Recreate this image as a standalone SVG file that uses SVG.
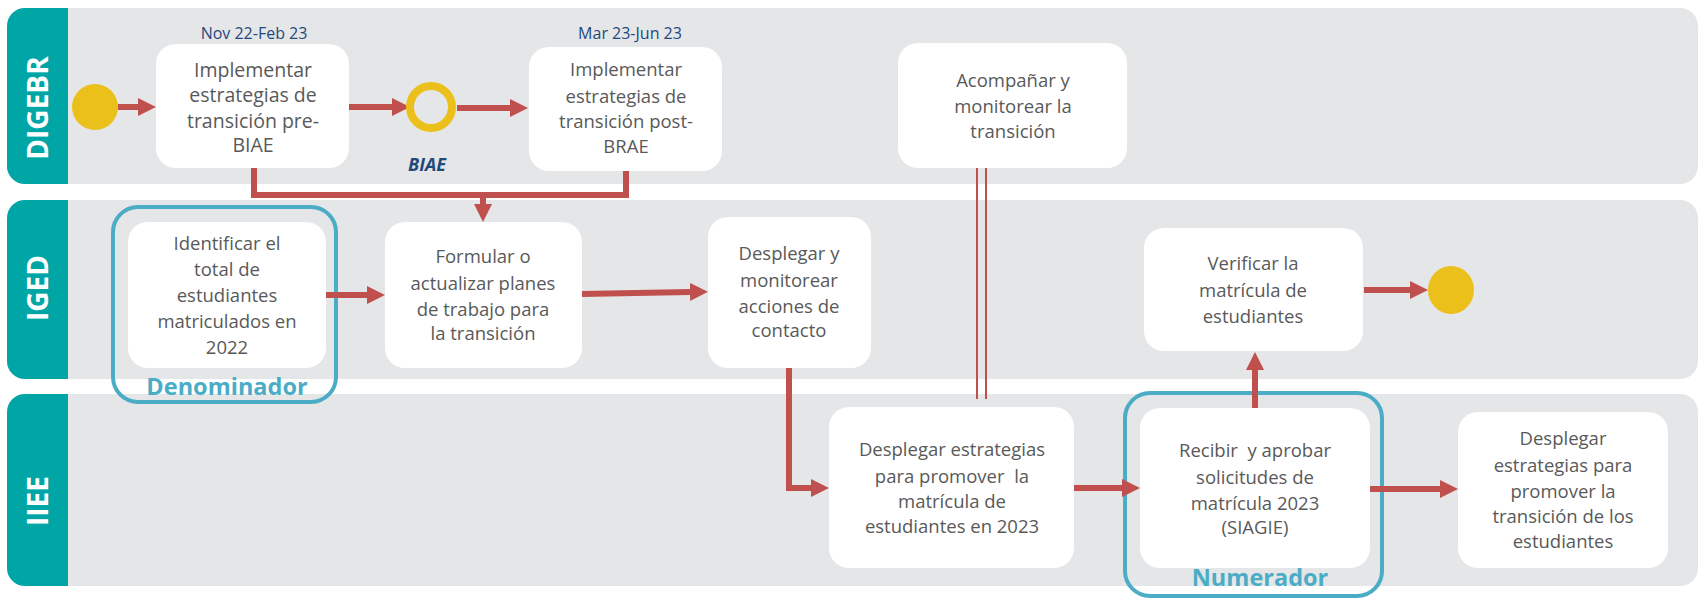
<svg xmlns="http://www.w3.org/2000/svg" width="1701" height="599" viewBox="0 0 1701 599">
<style>
.lane{fill:#E5E6E8}
.hdr{fill:#00A6A6}
.lbl{font-family:"Open Sans","Liberation Sans",sans-serif;font-weight:bold;font-size:28px;fill:#FFFFFF;text-anchor:middle}
.box{fill:#FFFFFF}
.t{font-family:"Open Sans","Liberation Sans",sans-serif;font-size:18.5px;fill:#595959;text-anchor:middle}
.t1{font-size:19.5px}
.date{font-family:"Open Sans","Liberation Sans",sans-serif;font-size:16px;fill:#1F497D;text-anchor:middle}
.biae{font-family:"Open Sans","Liberation Sans",sans-serif;font-size:18px;font-weight:bold;font-style:italic;fill:#1F497D;text-anchor:middle}
.mark{fill:none;stroke:#4BACC6;stroke-width:4}
.markt{font-family:"Open Sans","Liberation Sans",sans-serif;font-size:23.5px;font-weight:bold;fill:#4BACC6;text-anchor:middle}
.c{fill:none;stroke:#C0504D;stroke-width:6}
.c2{fill:none;stroke:#C0504D;stroke-width:2}
.ev{fill:#ECC01A}
</style>
<defs>
<marker id="ah" markerUnits="userSpaceOnUse" markerWidth="18" markerHeight="18" refX="0" refY="9" orient="auto">
<path d="M0,0 L18,9 L0,18 Z" fill="#C0504D"/>
</marker>
<clipPath id="cl1"><rect x="7" y="8" width="1691" height="176" rx="18"/></clipPath>
<clipPath id="cl2"><rect x="7" y="200" width="1691" height="179" rx="18"/></clipPath>
<clipPath id="cl3"><rect x="7" y="394" width="1691" height="192" rx="18"/></clipPath>
</defs>
<g id="lanes">
<g id="lane-digebr" clip-path="url(#cl1)">
<rect class="lane" x="7" y="8" width="1691" height="176"/>
<rect class="hdr" x="7" y="8" width="61" height="176"/>
<text class="lbl" transform="translate(48,108) rotate(-90)">DIGEBR</text>
</g>
<g id="lane-iged" clip-path="url(#cl2)">
<rect class="lane" x="7" y="200" width="1691" height="179"/>
<rect class="hdr" x="7" y="200" width="61" height="179"/>
<text class="lbl" transform="translate(48,288) rotate(-90)">IGED</text>
</g>
<g id="lane-iiee" clip-path="url(#cl3)">
<rect class="lane" x="7" y="394" width="1691" height="192"/>
<rect class="hdr" x="7" y="394" width="61" height="192"/>
<text class="lbl" transform="translate(48,501) rotate(-90)">IIEE</text>
</g>
</g>
<g id="highlights">
<g id="denominador">
<rect class="mark" x="113" y="207" width="223" height="195" rx="25"/>
<text class="markt" x="227" y="395">Denominador</text>
</g>
<g id="numerador">
<rect class="mark" x="1125" y="393" width="257" height="203" rx="25"/>
<text class="markt" x="1260" y="586">Numerador</text>
</g>
</g>
<g id="connectors">
<line class="c" x1="118" y1="107" x2="138" y2="107" marker-end="url(#ah)"/>
<line class="c" x1="349" y1="107" x2="392" y2="107" marker-end="url(#ah)"/>
<line class="c" x1="457" y1="108" x2="510" y2="108" marker-end="url(#ah)"/>
<path class="c" d="M254,168 V195 H626 V171"/>
<line class="c" x1="483" y1="195" x2="483" y2="204" marker-end="url(#ah)"/>
<line class="c" x1="326" y1="295" x2="367" y2="295" marker-end="url(#ah)"/>
<line class="c" x1="582" y1="294" x2="690" y2="292" marker-end="url(#ah)"/>
<path class="c" d="M789,368 V488 H811" marker-end="url(#ah)"/>
<line class="c2" x1="977" y1="168" x2="977" y2="399"/>
<line class="c2" x1="986" y1="168" x2="986" y2="399"/>
<line class="c" x1="1074" y1="488" x2="1122" y2="488" marker-end="url(#ah)"/>
<line class="c" x1="1255" y1="408" x2="1255" y2="370" marker-end="url(#ah)"/>
<line class="c" x1="1364" y1="290" x2="1410" y2="290" marker-end="url(#ah)"/>
<line class="c" x1="1370" y1="489" x2="1440" y2="489" marker-end="url(#ah)"/>
</g>
<g id="start"><circle class="ev" cx="95" cy="107" r="23"/></g>
<g id="biae-event">
<circle cx="431" cy="107" r="21" fill="none" stroke="#ECC01A" stroke-width="8"/>
<text class="biae" x="427" y="171">BIAE</text>
</g>
<g id="end"><ellipse class="ev" cx="1451" cy="290" rx="23" ry="24"/></g>
<g id="box1">
<text class="date" x="254" y="39">Nov 22-Feb 23</text>
<rect class="box" x="156" y="44" width="193" height="124" rx="20"/>
<text class="t t1"><tspan x="253" y="77">Implementar</tspan><tspan x="253" y="102">estrategias de</tspan><tspan x="253" y="128">transición pre-</tspan><tspan x="253" y="152">BIAE</tspan></text>
</g>
<g id="box2">
<text class="date" x="630" y="39">Mar 23-Jun 23</text>
<rect class="box" x="529" y="47" width="193" height="124" rx="20"/>
<text class="t"><tspan x="626" y="76">Implementar</tspan><tspan x="626" y="103">estrategias de</tspan><tspan x="626" y="128">transición post-</tspan><tspan x="626" y="153">BRAE</tspan></text>
</g>
<g id="box3">
<rect class="box" x="898" y="43" width="229" height="125" rx="20"/>
<text class="t"><tspan x="1013" y="87">Acompañar y</tspan><tspan x="1013" y="113">monitorear la</tspan><tspan x="1013" y="138">transición</tspan></text>
</g>
<g id="identificar">
<rect class="box" x="128" y="222" width="198" height="146" rx="20"/>
<text class="t"><tspan x="227" y="250">Identificar el</tspan><tspan x="227" y="276">total de</tspan><tspan x="227" y="302">estudiantes</tspan><tspan x="227" y="328">matriculados en</tspan><tspan x="227" y="354">2022</tspan></text>
</g>
<g id="formular">
<rect class="box" x="385" y="222" width="197" height="146" rx="20"/>
<text class="t"><tspan x="483" y="263">Formular o</tspan><tspan x="483" y="290">actualizar planes</tspan><tspan x="483" y="316">de trabajo para</tspan><tspan x="483" y="340">la transición</tspan></text>
</g>
<g id="desplegar-contacto">
<rect class="box" x="708" y="217" width="163" height="151" rx="20"/>
<text class="t"><tspan x="789" y="260">Desplegar y</tspan><tspan x="789" y="287">monitorear</tspan><tspan x="789" y="313">acciones de</tspan><tspan x="789" y="337">contacto</tspan></text>
</g>
<g id="verificar">
<rect class="box" x="1144" y="228" width="219" height="123" rx="20"/>
<text class="t"><tspan x="1253" y="270">Verificar la</tspan><tspan x="1253" y="297">matrícula de</tspan><tspan x="1253" y="323">estudiantes</tspan></text>
</g>
<g id="desplegar-estrategias">
<rect class="box" x="829" y="407" width="245" height="161" rx="20"/>
<text class="t" xml:space="preserve"><tspan x="952" y="456">Desplegar estrategias</tspan><tspan x="952" y="483">para promover  la</tspan><tspan x="952" y="508">matrícula de</tspan><tspan x="952" y="533">estudiantes en 2023</tspan></text>
</g>
<g id="recibir">
<rect class="box" x="1140" y="408" width="230" height="160" rx="20"/>
<text class="t" xml:space="preserve"><tspan x="1255" y="457">Recibir  y aprobar</tspan><tspan x="1255" y="484">solicitudes de</tspan><tspan x="1255" y="510">matrícula 2023</tspan><tspan x="1255" y="534">(SIAGIE)</tspan></text>
</g>
<g id="desplegar-transicion">
<rect class="box" x="1458" y="412" width="210" height="156" rx="20"/>
<text class="t"><tspan x="1563" y="445">Desplegar</tspan><tspan x="1563" y="472">estrategias para</tspan><tspan x="1563" y="498">promover la</tspan><tspan x="1563" y="523">transición de los</tspan><tspan x="1563" y="548">estudiantes</tspan></text>
</g>
</svg>
